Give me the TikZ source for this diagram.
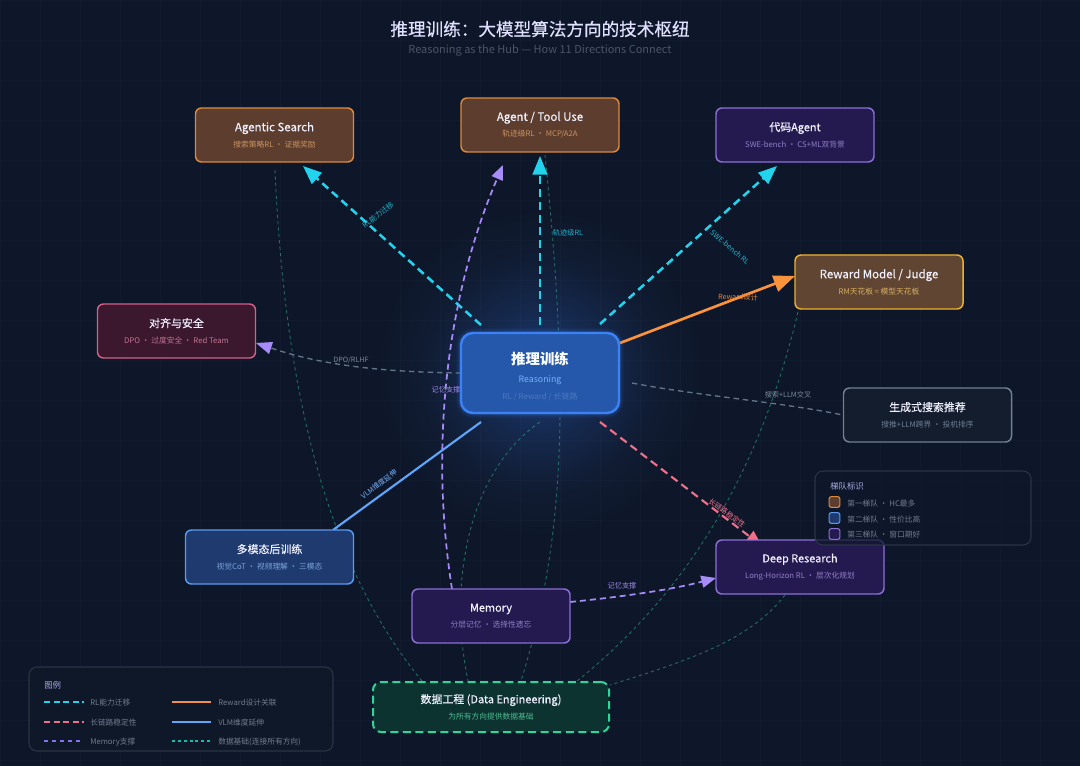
\documentclass[tikz,border=0pt]{standalone}
\usepackage{fontspec}
\setmainfont{Noto Sans CJK SC}
\newfontfamily\ttlfont[FakeBold=0.45]{Noto Sans CJK SC}
\usetikzlibrary{arrows.meta,positioning,calc}
\definecolor{bgc}{HTML}{0E1729}
\definecolor{glowa}{HTML}{1C3D78}
\definecolor{glowb}{HTML}{15284C}
\definecolor{glowc}{HTML}{101C33}
\definecolor{cyanl}{HTML}{22D3EE}
\definecolor{orangel}{HTML}{FB923C}
\definecolor{pinkl}{HTML}{F0708A}
\definecolor{bluel}{HTML}{60A5FA}
\definecolor{purplel}{HTML}{A78BFA}
\definecolor{greenl}{HTML}{2A8C78}
\definecolor{grayl}{HTML}{64748B}
\definecolor{panelb}{HTML}{2A3445}
\definecolor{panelf}{HTML}{0F1829}
\definecolor{legt}{HTML}{707B8D}
\definecolor{suborange}{HTML}{C8935F}
\definecolor{subgold}{HTML}{D6AE62}
\definecolor{subpurple}{HTML}{8F7FC8}
\definecolor{subpink}{HTML}{C47594}
\definecolor{subgray}{HTML}{6F7C90}
\definecolor{subblue}{HTML}{7BA3DC}
\definecolor{subgreen}{HTML}{4FB98F}
\pgfdeclarelayer{backdrop}
\pgfdeclarelayer{conn}
\pgfdeclarelayer{top}
\pgfsetlayers{backdrop,conn,main,top}
\pgfdeclareradialshading{hubglow}{\pgfpoint{0bp}{0bp}}{color(0bp)=(glowa); color(10bp)=(glowb); color(17.5bp)=(glowc); color(25bp)=(bgc); color(50bp)=(bgc)}
\newcommand{\ttl}[1]{{\ttlfont\fontsize{8.2pt}{10pt}\selectfont\color{white!94!blue}#1}}
\newcommand{\ttll}[1]{{\ttlfont\fontsize{8.6pt}{10pt}\selectfont\color{white!94!blue}#1}}
\newcommand{\subt}[2]{{\fontsize{5.8pt}{8pt}\selectfont\color{#1}#2}}
\tikzset{
  x=0.75pt,y=-0.75pt,
  box/.style={draw,rounded corners=4.5pt,line width=1.1pt,align=center,inner sep=0pt,minimum height=40.5pt},
  wbox/.style={box,minimum width=118.5pt},
  nbox/.style={box,minimum width=126pt},
  orangebox/.style={fill={rgb,255:red,92;green,61;blue,46},draw={rgb,255:red,221;green,137;blue,62}},
  goldbox/.style={fill={rgb,255:red,96;green,70;blue,50},draw={rgb,255:red,236;green,178;blue,46}},
  purplebox/.style={fill={rgb,255:red,37;green,26;blue,80},draw={rgb,255:red,139;green,112;blue,214}},
  pinkbox/.style={fill={rgb,255:red,59;green,24;blue,46},draw={rgb,255:red,214;green,96;blue,136}},
  graybox/.style={fill={rgb,255:red,20;green,29;blue,46},draw={rgb,255:red,113;green,128;blue,150}},
  bluebox/.style={fill={rgb,255:red,30;green,58;blue,110},draw={rgb,255:red,90;green,154;blue,240}},
  cyanarrow/.style={draw=cyanl,line width=1.9pt,dash pattern=on 6pt off 3.6pt,-{Triangle[length=14pt,width=11pt]}},
  pinkarrow/.style={draw=pinkl,line width=1.6pt,dash pattern=on 6pt off 3.6pt,-{Triangle[length=12pt,width=10pt]}},
  purplearrow/.style={draw=purplel,line width=1.3pt,dash pattern=on 4.5pt off 3pt,-{Triangle[length=11pt,width=9pt]}},
  grayarrow/.style={draw=grayl,line width=1pt,dash pattern=on 4pt off 3pt},
  datalink/.style={draw=greenl,opacity=.75,line width=.65pt,dash pattern=on 2.4pt off 2.4pt},
  linklabel/.style={font=\fontsize{5.4pt}{6pt}\selectfont,inner sep=0pt},
  legline/.style={line width=1.3pt},
  legtext/.style={font=\fontsize{5.8pt}{7pt}\selectfont,text=legt,anchor=west,inner sep=0pt},
  swatch/.style={draw,rounded corners=1.5pt,line width=.8pt,minimum size=8pt,inner sep=0pt},
  panel/.style={draw=panelb,line width=.8pt,rounded corners=6pt,inner sep=0pt},
}
\begin{document}
\begin{tikzpicture}
\useasboundingbox (0,0) rectangle (1080,766);
\begin{pgfonlayer}{backdrop}
\fill[bgc] (0,0) rectangle (1080,766);
\shade[shading=hubglow] (540,373) circle (165);
\foreach \gx in {0,40,...,1080} \draw[white,opacity=.02,line width=.5pt] (\gx,0) -- (\gx,766);
\foreach \gy in {0,40,...,760} \draw[white,opacity=.02,line width=.5pt] (0,\gy) -- (1080,\gy);
\end{pgfonlayer}

% title
\node[inner sep=0pt,font=\ttlfont\fontsize{13.2pt}{15pt}\selectfont,text=white!88!blue] (title) at (540,29) {推理训练：大模型算法方向的技术枢纽};
\node[inner sep=0pt,font=\fontsize{8.25pt}{10pt}\selectfont,text={rgb,255:red,74;green,85;blue,104}] (subtitle) at (540,51) {Reasoning as the Hub — How 11 Directions Connect};

% hub glow edge
\foreach \gw/\gop in {7/.07,5/.09,3/.12,1.5/.16}
  \draw[rounded corners=9pt,line width=\gw pt,draw={rgb,255:red,59;green,130;blue,246},opacity=\gop] (461,333) rectangle (619,413);

% hub
\node[draw={rgb,255:red,59;green,130;blue,246},fill={rgb,255:red,37;green,88;blue,171},rounded corners=9pt,line width=1.8pt,minimum width=118.5pt,minimum height=60pt,align=center,inner sep=0pt] (hub) at (540,373)
 {\rule{0pt}{14.7pt}{\fontsize{10.8pt}{13pt}\selectfont\bfseries\color{white}推理训练}\\[1.5pt]
  {\fontsize{6.6pt}{8pt}\selectfont\color{bluel!85!white}Reasoning}\\[0.3pt]
  {\fontsize{6pt}{8pt}\selectfont\color{rgb,255:red,76;green,120;blue,190}RL / Reward / 长链路}};

% nodes
\node[wbox,orangebox] (search) at (274.5,135) {\ttll{Agentic Search}\\[0pt]\subt{suborange}{搜索策略RL · 证据奖励}};
\node[wbox,orangebox] (tool) at (540,125) {\ttll{Agent / Tool Use}\\[0pt]\subt{suborange}{轨迹级RL · MCP/A2A}};
\node[wbox,purplebox] (code) at (795,135) {\ttl{代码Agent}\\[0pt]\subt{subpurple}{SWE-bench · CS+ML双背景}};
\node[nbox,goldbox] (reward) at (879,282) {\ttll{Reward Model / Judge}\\[0pt]\subt{subgold}{RM天花板 = 模型天花板}};
\node[wbox,pinkbox] (align) at (176.5,331) {\ttl{对齐与安全}\\[0pt]\subt{subpink}{DPO · 过度安全 · Red Team}};
\node[nbox,graybox] (gen) at (927.5,415) {\ttl{生成式搜索推荐}\\[0pt]\subt{subgray}{搜推+LLM跨界 · 投机排序}};
\node[nbox,bluebox] (multi) at (269.5,557) {\ttl{多模态后训练}\\[0pt]\subt{subblue}{视觉CoT · 视频理解 · 三模态}};
\node[wbox,purplebox] (memory) at (491,616) {\ttl{Memory}\\[0pt]\subt{subpurple}{分层记忆 · 选择性遗忘}};
\node[nbox,purplebox] (deep) at (800,567) {\ttl{Deep Research}\\[0pt]\subt{subpurple}{Long-Horizon RL · 层次化规划}};
\node[draw={rgb,255:red,52;green,211;blue,153},fill={rgb,255:red,12;green,51;blue,48},dash pattern=on 6pt off 3.4pt,rounded corners=6pt,line width=1.5pt,minimum width=177pt,minimum height=37.5pt,align=center,inner sep=0pt] (data) at (491,707)
 {\ttl{数据工程 (Data Engineering)}\\[0pt]\subt{subgreen}{为所有方向提供数据基础}};

% connector ends
\coordinate (hubNW) at (481,325);
\coordinate (hubN) at (540,325);
\coordinate (hubNE) at (600,324);
\coordinate (hubER) at (620,343);
\coordinate (hubEG) at (632,383);
\coordinate (hubWA) at (461,373);
\coordinate (hubSE) at (600,422);
\coordinate (hubSW) at (481,422);
\coordinate (hubS) at (540,422);
\coordinate (searchIn) at (303,166);
\coordinate (toolIn) at (540,156);
\coordinate (toolMem) at (503,165);
\coordinate (codeIn) at (777,166);
\coordinate (rewardIn) at (795,276);
\coordinate (alignIn) at (256,343);
\coordinate (deepIn) at (762,546);
\coordinate (deepMem) at (716,578);
\coordinate (memTop) at (452,589);
\coordinate (memE) at (570,602);
\coordinate (multiIn) at (333,530);
\coordinate (searchS) at (275,170);
\coordinate (toolS) at (545,155);
\coordinate (rewardS) at (798,312);
\coordinate (deepS) at (785,595);
\coordinate (dataA) at (422,681);
\coordinate (dataB) at (468,681);
\coordinate (dataC) at (521,681);
\coordinate (dataD) at (577,681);
\coordinate (dataE) at (610,685);

\begin{pgfonlayer}{conn}
% data links
\draw[datalink] (searchS) .. controls (285,400) and (330,570) .. (dataA);
\draw[datalink] (toolS) .. controls (570,400) and (565,540) .. (dataC);
\draw[datalink] (hubS) .. controls (470,470) and (447,580) .. (dataB);
\draw[datalink] (rewardS) .. controls (760,470) and (690,590) .. (dataD);
\draw[datalink] (deepS) .. controls (750,640) and (690,660) .. (dataE);
% gray
\draw[grayarrow] (hubWA) .. controls (380,372) and (320,365) .. (268,347);
\draw[draw=none,fill=purplel] (alignIn) -- (273,342) -- (269,354) -- cycle;
\draw[grayarrow] (hubEG) .. controls (700,396) and (780,402) .. (gen.west);
% main
\draw[cyanarrow] (hubNW) -- (searchIn);
\draw[cyanarrow] (hubN) -- (toolIn);
\draw[cyanarrow] (hubNE) -- (codeIn);
\draw[draw=orangel,line width=2pt,-{Triangle[length=16pt,width=12.5pt]}] (hubER) -- (rewardIn);
\draw[pinkarrow] (hubSE) -- (deepIn);
\draw[draw=bluel,line width=1.6pt] (hubSW) -- (multiIn);
\draw[purplearrow] (memTop) .. controls (430,450) and (445,300) .. (toolMem);
\draw[purplearrow] (memE) .. controls (620,597) and (670,590) .. (deepMem);
\end{pgfonlayer}

% connector labels
\node[linklabel,text=cyanl!85!black,rotate=38] (l1) at (378,215) {RL能力迁移};
\node[linklabel,text=cyanl!85!black] (l2) at (568,233) {轨迹级RL};
\node[linklabel,text=cyanl!85!black,rotate=-40] (l3) at (730,247) {SWE-bench RL};
\node[linklabel,text=orangel!90!black,rotate=-2] (l4) at (738,297) {Reward设计};
\node[linklabel,text=grayl!85!white] (l5) at (351,360) {DPO/RLHF};
\node[linklabel,text=grayl!85!white] (l6) at (788,395) {搜索+LLM交叉};
\node[linklabel,text=purplel!85!gray] (l7) at (446,390) {记忆支撑};
\node[linklabel,text=bluel!85!white,rotate=37] (l8) at (379,484) {VLM维度延伸};
\node[linklabel,text=pinkl,rotate=-37] (l9) at (727,513) {长链路稳定性};
\node[linklabel,text=purplel!85!gray] (l10) at (622,586) {记忆支撑};

% tier panel
\begin{pgfonlayer}{top}
\node[panel,fill=panelf,fill opacity=.72,minimum width=162pt,minimum height=55.5pt] (tierp) at (923,508) {};
\node[font=\fontsize{6.3pt}{8pt}\selectfont,text=white!72!blue!80!gray,anchor=west,inner sep=0pt] (tiert) at (830,486) {梯队标识};
\node[swatch,orangebox] (s1) at (834.5,502) {};
\node[swatch,bluebox] (s2) at (834.5,518) {};
\node[swatch,purplebox] (s3) at (834.5,534) {};
\node[legtext] (t1) at (847,504) {第一梯队 · HC最多};
\node[legtext] (t2) at (847,520) {第二梯队 · 性价比高};
\node[legtext] (t3) at (847,535) {第三梯队 · 窗口期好};
\end{pgfonlayer}

% legend
\node[panel,fill=panelf,minimum width=228pt,minimum height=63pt] (legend) at (181,709) {};
\node[font=\fontsize{6.3pt}{8pt}\selectfont,text=white!72!blue!80!gray,anchor=west,inner sep=0pt] (legt1) at (44,685) {图例};
\coordinate (a1) at (44,702); \coordinate (a2) at (84,702);
\coordinate (b1) at (44,722); \coordinate (b2) at (84,722);
\coordinate (c1) at (44,741); \coordinate (c2) at (80,741);
\coordinate (d1) at (172,702); \coordinate (d2) at (211,702);
\coordinate (e1) at (172,722); \coordinate (e2) at (211,722);
\coordinate (f1) at (172,741); \coordinate (f2) at (211,741);
\draw[legline,draw=cyanl,dash pattern=on 4.5pt off 2.7pt] (a1) -- (a2);
\draw[legline,draw=pinkl,dash pattern=on 4.5pt off 2.7pt] (b1) -- (b2);
\draw[legline,draw=purplel!80!blue,line width=1pt,dash pattern=on 3pt off 3pt] (c1) -- (c2);
\draw[legline,draw=orangel!90!gray,line width=1.6pt] (d1) -- (d2);
\draw[legline,draw=bluel] (e1) -- (e2);
\draw[draw=greenl!60!cyan,line width=.9pt,dash pattern=on 2.2pt off 2.2pt] (f1) -- (f2);
\node[legtext] (lt1) at (90,703) {RL能力迁移};
\node[legtext] (lt2) at (90,723) {长链路稳定性};
\node[legtext] (lt3) at (90,742) {Memory支撑};
\node[legtext] (lt4) at (218,703) {Reward设计关联};
\node[legtext] (lt5) at (218,723) {VLM维度延伸};
\node[legtext] (lt6) at (218,742) {数据基础(连接所有方向)};
\end{tikzpicture}
\end{document}
